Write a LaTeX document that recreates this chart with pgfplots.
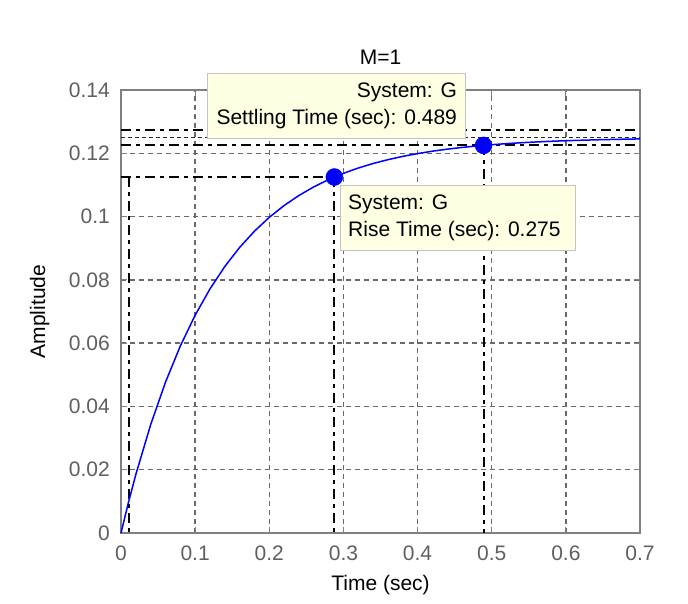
\documentclass[border=0pt]{standalone}
\usepackage{fontspec}
\setmainfont{Liberation Sans}
\usepackage{pgfplots}
\pgfplotsset{compat=1.18}
\definecolor{tipfill}{RGB}{255,255,228}
\definecolor{tipdraw}{RGB}{195,195,195}
\definecolor{axgray}{RGB}{128,128,128}
\definecolor{tickgray}{RGB}{95,95,95}
\definecolor{gridgray}{RGB}{105,105,105}
\definecolor{mblue}{RGB}{0,0,255}
\begin{document}
\begin{tikzpicture}[font=\fontsize{21}{27}\selectfont]
\path[use as bounding box] (-121pt,-70pt) rectangle (567pt,533pt);
\begin{axis}[
  scale only axis, width=519pt, height=443pt,
  clip=false,
  xmin=0, xmax=0.7, ymin=0, ymax=0.14,
  xtick={0,0.1,0.2,0.3,0.4,0.5,0.6,0.7},
  xticklabels={0,0.1,0.2,0.3,0.4,0.5,0.6,0.7},
  ytick={0,0.02,0.04,0.06,0.08,0.1,0.12,0.14},
  yticklabels={0,0.02,0.04,0.06,0.08,0.1,0.12,0.14},
  tick align=inside, major tick length=6pt,
  tick style={axgray, line width=1.2pt},
  axis line style={axgray, line width=2pt},
  grid=major,
  major grid style={gridgray, dash pattern=on 5pt off 4pt, line width=1.3pt},
  xticklabel style={text=tickgray, anchor=base, inner sep=0pt, yshift=-27pt},
  yticklabel style={text=tickgray, anchor=east, inner sep=0pt, xshift=-11pt},
  title={M=1},
  title style={at={(axis description cs:0.5,1.0429)}, anchor=base, inner sep=0pt},
  xlabel={Time (sec)},
  xlabel style={at={(axis description cs:0.5,-0.1309)}, anchor=base, inner sep=0pt},
  ylabel={Amplitude},
  ylabel style={at={(axis description cs:-0.1464,0.5)}, anchor=base, inner sep=0pt},
]
% reference lines (dash-dot)
\addplot[black, line width=2pt, dash pattern=on 10pt off 5pt on 4pt off 5pt] coordinates {(0,0.1275) (0.7,0.1275)};
\addplot[black, line width=2pt, dash pattern=on 10pt off 5pt on 4pt off 5pt] coordinates {(0,0.1225) (0.7,0.1225)};
\addplot[black!85, line width=1.5pt, dash pattern=on 4pt off 3pt] coordinates {(0,0.125) (0.7,0.125)};
\addplot[black, line width=2pt, dash pattern=on 10pt off 5pt on 4pt off 5pt] coordinates {(0,0.1125) (0.2878,0.1125)};
\addplot[black, line width=2pt, dash pattern=on 10pt off 5pt on 4pt off 5pt] coordinates {(0.2878,0.1125) (0.2878,0)};
\addplot[black, line width=2pt, dash pattern=on 10pt off 5pt on 4pt off 5pt] coordinates {(0.011,0.1125) (0.011,0)};
\addplot[black, line width=2pt, dash pattern=on 10pt off 5pt on 4pt off 5pt] coordinates {(0.489,0.1225) (0.489,0)};
% step response
\addplot[mblue, line width=1.5pt] coordinates {
(0,0) (0.01,0.00961) (0.02,0.01848) (0.04,0.03423) (0.06,0.04765) (0.08,0.05909)
(0.10,0.06883) (0.12,0.07714) (0.14,0.08422) (0.16,0.09025) (0.18,0.09538)
(0.20,0.09976) (0.22,0.10349) (0.24,0.10667) (0.26,0.10938) (0.28,0.11169)
(0.30,0.11366) (0.32,0.11534) (0.34,0.11677) (0.36,0.11798) (0.38,0.11902)
(0.40,0.11991) (0.42,0.12066) (0.44,0.12130) (0.46,0.12185) (0.48,0.12231)
(0.50,0.12271) (0.52,0.12305) (0.54,0.12334) (0.56,0.12358) (0.58,0.12379)
(0.60,0.12397) (0.62,0.12412) (0.64,0.12425) (0.66,0.12436) (0.68,0.12446)
(0.70,0.12454)};
% data tip markers
\addplot[only marks, mark=*, mark size=8.5pt, mblue, mark options={draw=mblue, fill=mblue}] coordinates {(0.2878,0.1125) (0.489,0.1225)};
% data tips
\node[draw=tipdraw, fill=tipfill, line width=1pt, align=right, anchor=north west,
      inner xsep=9pt, inner ysep=9.5pt] at (axis cs:0.116,0.1454)
  {System: G\\Settling Time (sec): 0.489};
\node[draw=tipdraw, fill=tipfill, line width=1pt, align=left, anchor=north west,
      inner xsep=8pt, inner ysep=9.5pt] at (axis cs:0.295,0.1100)
  {System: G\\Rise Time (sec): 0.275\hspace*{7pt}};
\end{axis}
\end{tikzpicture}
\end{document}
